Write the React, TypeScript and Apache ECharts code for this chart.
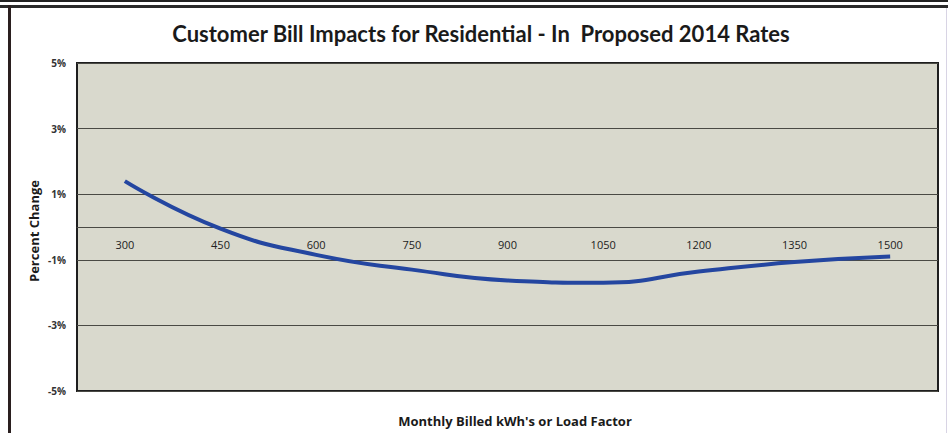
import React, { useEffect, useRef } from "react";
import * as echarts from "echarts";

// Monthly billed kWh categories
const categories: string[] = ["300", "450", "600", "750", "900", "1050", "1200", "1350", "1500"];
// Percent change in customer bill
const percentChange: number[] = [1.4, -0.05, -0.85, -1.3, -1.63, -1.7, -1.36, -1.07, -0.9];

const TITLE = "Customer Bill Impacts for Residential - In  Proposed 2014 Rates";
const Y_NAME = "Percent Change";
const X_NAME = "Monthly Billed kWh's or Load Factor";

// plot box
const GRID_TOP = 63;
const GRID_BOTTOM = 42;
const CHART_H = 433;
const Y_MIN = -5;
const Y_MAX = 5;

export default function App() {
  const ref = useRef<HTMLDivElement>(null);

  useEffect(() => {
    if (!ref.current) return;
    const chart = echarts.init(ref.current, undefined, { renderer: "svg" });
    // lift the category axis from the bottom edge up to the zero line
    const plotH = CHART_H - GRID_TOP - GRID_BOTTOM;
    const zeroOffset = -plotH * ((0 - Y_MIN) / (Y_MAX - Y_MIN));
    chart.setOption({
      animation: false,
      backgroundColor: "#ffffff",
      title: {
        text: TITLE,
        left: 476,
        top: 17,
        textAlign: "center",
        textStyle: {
          fontFamily: "Lato",
          fontWeight: "bold",
          fontSize: 22,
          color: "#1a1a1a",
        },
      },
      graphic: [
        // page frame
        { type: "rect", shape: { x: 0, y: 0, width: 948, height: 2 }, style: { fill: "#222" } },
        { type: "rect", shape: { x: 0, y: 5, width: 948, height: 3 }, style: { fill: "#2a2a2a" } },
        { type: "rect", shape: { x: 8, y: 5, width: 3, height: 428 }, style: { fill: "#2a1f1f" } },
        { type: "rect", shape: { x: 946, y: 8, width: 1, height: 425 }, style: { fill: "#d8d4e4" } },
        {
          type: "text",
          x: 34,
          y: 231,
          rotation: Math.PI / 2,
          style: {
            text: Y_NAME,
            font: "bold 13px 'Open Sans'",
            fill: "#1a1a1a",
            align: "center",
            verticalAlign: "middle",
          },
        },
        {
          type: "text",
          x: 515,
          y: 421,
          style: {
            text: X_NAME,
            font: "bold 13px 'Open Sans'",
            fill: "#1a1a1a",
            align: "center",
            verticalAlign: "middle",
          },
        },
      ],
      grid: {
        left: 77,
        right: 10,
        top: GRID_TOP,
        bottom: GRID_BOTTOM,
        outerBoundsMode: "none",
        containLabel: false,
        show: true,
        backgroundColor: "#d9d9cd",
        borderColor: "#1e1e1e",
        borderWidth: 2,
      },
      xAxis: {
        type: "category",
        data: categories,
        boundaryGap: true,
        position: "bottom",
        offset: zeroOffset,
        axisLine: { onZero: false, lineStyle: { color: "#4a4a44", width: 1 } },
        axisTick: { show: false },
        axisLabel: {
          margin: 12,
          fontFamily: "Open Sans",
          fontSize: 11,
          color: "#222",
        },
      },
      yAxis: {
        type: "value",
        min: Y_MIN,
        max: Y_MAX,
        interval: 1,
        axisLine: { show: false },
        axisTick: { show: false },
        axisLabel: {
          margin: 11,
          fontFamily: "Open Sans",
          fontWeight: "bold",
          fontSize: 10,
          color: "#333",
          formatter: (v: number) => (Math.round(v) % 2 !== 0 ? `${v}%` : ""),
        },
        splitLine: {
          show: true,
          lineStyle: { color: ["#4a4a44", "rgba(0,0,0,0)"], width: 1 },
        },
      },
      series: [
        {
          type: "line",
          data: percentChange,
          smooth: 0.5,
          symbol: "none",
          lineStyle: { color: "#2446a0", width: 4 },
        },
      ],
    });
    return () => chart.dispose();
  }, []);

  return (
    <div
      ref={ref}
      style={{ position: "fixed", left: 0, top: 0, width: 948, height: 433 }}
    />
  );
}
